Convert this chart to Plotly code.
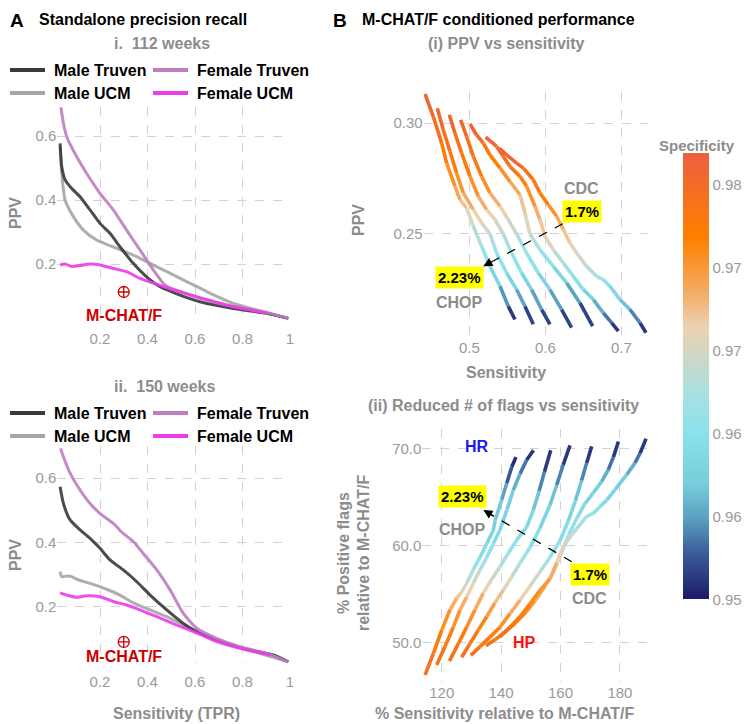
import plotly.graph_objects as go
from plotly.colors import sample_colorscale

# ---------------- Panel A data (sensitivity, PPV) ----------------
# i. 112 weeks
a1_male_truven_x = [0.032,0.039,0.053,0.081,0.116,0.158,0.200,0.242,0.284,0.340,0.396,0.453,0.537,0.621,0.761,0.902,0.993]
a1_male_truven_y = [0.577,0.504,0.463,0.436,0.410,0.369,0.327,0.296,0.254,0.202,0.160,0.129,0.103,0.082,0.061,0.046,0.030]
a1_female_truven_x = [0.034,0.046,0.060,0.102,0.144,0.200,0.256,0.312,0.368,0.425,0.474,0.537,0.621,0.761,0.902,0.993]
a1_female_truven_y = [0.697,0.640,0.598,0.535,0.483,0.421,0.369,0.306,0.244,0.181,0.134,0.114,0.093,0.067,0.048,0.030]
a1_male_ucm_x = [0.032,0.039,0.053,0.088,0.130,0.186,0.270,0.340,0.411,0.481,0.565,0.649,0.761,0.874,0.993]
a1_male_ucm_y = [0.567,0.483,0.400,0.348,0.306,0.275,0.249,0.228,0.202,0.176,0.145,0.114,0.077,0.054,0.030]
a1_female_ucm_x = [0.032,0.053,0.081,0.116,0.158,0.200,0.256,0.312,0.368,0.425,0.509,0.621,0.761,0.902]
a1_female_ucm_y = [0.197,0.200,0.192,0.195,0.200,0.197,0.186,0.176,0.155,0.140,0.119,0.095,0.067,0.046]
a1_mchat = (0.30, 0.1125)

# ii. 150 weeks
a2_male_truven_x = [0.032,0.046,0.074,0.116,0.158,0.200,0.242,0.298,0.354,0.411,0.481,0.551,0.621,0.733,0.832,0.930,0.993]
a2_male_truven_y = [0.573,0.521,0.470,0.439,0.413,0.382,0.346,0.315,0.279,0.237,0.191,0.149,0.118,0.087,0.067,0.051,0.030]
a2_female_truven_x = [0.034,0.046,0.074,0.116,0.158,0.200,0.256,0.298,0.340,0.382,0.439,0.495,0.551,0.607,0.691,0.789,0.902,0.993]
a2_female_truven_y = [0.692,0.666,0.615,0.563,0.521,0.490,0.459,0.428,0.403,0.366,0.315,0.253,0.180,0.134,0.103,0.077,0.056,0.030]
a2_male_ucm_x = [0.032,0.039,0.060,0.081,0.102,0.158,0.228,0.284,0.340,0.411,0.481,0.551,0.621,0.733,0.846,0.993]
a2_male_ucm_y = [0.310,0.294,0.296,0.294,0.286,0.273,0.255,0.237,0.213,0.191,0.170,0.144,0.120,0.087,0.062,0.030]
a2_female_ucm_x = [0.032,0.060,0.102,0.144,0.200,0.256,0.312,0.368,0.439,0.523,0.607,0.691,0.789,0.916]
a2_female_ucm_y = [0.244,0.237,0.230,0.235,0.232,0.217,0.206,0.191,0.170,0.144,0.120,0.093,0.072,0.051]
a2_mchat = (0.30, 0.0915)

series_names = ["Male Truven", "Female Truven", "Male UCM", "Female UCM"]
series_colors = {"Male Truven": "#3a3a3a", "Female Truven": "#bf7dbf",
                 "Male UCM": "#a6a6a6", "Female UCM": "#ec3cec"}

# ---------------- Panel B(i): sensitivity vs PPV, coloured by specificity ----------------
b1_sens = [
    [0.4417,0.4526,0.4636,0.4702,0.4811,0.4877,0.4965,0.5053,0.5162,0.5272,0.5404,0.5513,0.5601],
    [0.4579,0.4658,0.4746,0.4833,0.4921,0.5053,0.5162,0.5272,0.5360,0.5491,0.5623,0.5732,0.5842],
    [0.4737,0.4811,0.4899,0.5009,0.5118,0.5228,0.5338,0.5447,0.5557,0.5689,0.5820,0.5952,0.6061],
    [0.4886,0.4965,0.5053,0.5162,0.5272,0.5404,0.5513,0.5623,0.5754,0.5908,0.6061,0.6215,0.6346],
    [0.5009,0.5096,0.5184,0.5272,0.5404,0.5535,0.5667,0.5732,0.5798,0.5930,0.6105,0.6281,0.6456,0.6623],
    [0.5215,0.5360,0.5447,0.5535,0.5667,0.5754,0.5864,0.5930,0.5996,0.6105,0.6237,0.6368,0.6500,0.6632,0.6763,0.6873,0.6961],
    [0.5395,0.5491,0.5623,0.5711,0.5842,0.5930,0.6039,0.6149,0.6237,0.6325,0.6412,0.6544,0.6675,0.6763,0.6851,0.6982,0.7114,0.7246,0.7325],
]
b1_ppv = [
    [0.3132,0.3030,0.2910,0.2820,0.2715,0.2655,0.2617,0.2535,0.2444,0.2354,0.2264,0.2174,0.2114],
    [0.3068,0.2970,0.2872,0.2775,0.2685,0.2610,0.2550,0.2500,0.2414,0.2324,0.2249,0.2174,0.2092],
    [0.3038,0.2955,0.2865,0.2760,0.2670,0.2610,0.2565,0.2500,0.2414,0.2324,0.2249,0.2159,0.2092],
    [0.3015,0.2940,0.2850,0.2760,0.2685,0.2625,0.2565,0.2500,0.2414,0.2324,0.2249,0.2159,0.2077],
    [0.2997,0.2947,0.2910,0.2857,0.2797,0.2737,0.2677,0.2595,0.2500,0.2429,0.2354,0.2279,0.2189,0.2084],
    [0.2937,0.2895,0.2850,0.2805,0.2760,0.2715,0.2625,0.2565,0.2489,0.2429,0.2369,0.2309,0.2249,0.2204,0.2144,0.2099,0.2062],
    [0.2887,0.2857,0.2820,0.2797,0.2745,0.2685,0.2632,0.2580,0.2520,0.2459,0.2414,0.2354,0.2309,0.2294,0.2264,0.2204,0.2159,0.2099,0.2054],
]
b1_spec = [
    [0.979,0.978,0.976,0.974,0.972,0.9705,0.969,0.967,0.964,0.962,0.959,0.955,0.9525],
    [0.979,0.977,0.976,0.974,0.972,0.970,0.968,0.966,0.964,0.962,0.959,0.956,0.9525],
    [0.979,0.977,0.976,0.974,0.972,0.970,0.968,0.966,0.964,0.962,0.959,0.956,0.9525],
    [0.979,0.977,0.976,0.974,0.972,0.970,0.968,0.966,0.964,0.962,0.959,0.956,0.9525],
    [0.979,0.978,0.977,0.975,0.974,0.972,0.9705,0.969,0.967,0.964,0.962,0.959,0.956,0.9525],
    [0.979,0.978,0.977,0.976,0.975,0.974,0.972,0.970,0.969,0.9665,0.965,0.963,0.961,0.959,0.957,0.955,0.9525],
    [0.979,0.9785,0.978,0.977,0.976,0.975,0.974,0.972,0.9705,0.969,0.968,0.9665,0.965,0.964,0.962,0.960,0.958,0.955,0.9525],
]

# ---------------- Panel B(ii): % sensitivity vs % positive flags (relative to M-CHAT/F) ----------------
b2_rel_sens = [
    [114.4,117.2,120.0,122.8,125.1,126.7,128.4,130.6,132.9,135.2,137.4,138.0,140.2,141.9,143.6,145.0],
    [118.3,121.1,123.9,126.2,128.4,130.6,132.9,135.2,137.4,139.6,142.0,144.1,146.4,148.6,150.9],
    [122.6,125.6,128.4,131.2,134.0,136.8,139.6,142.4,145.3,148.6,150.8,152.8,154.6,156.7],
    [126.7,129.5,132.3,135.2,137.9,140.7,143.6,146.4,149.7,153.1,156.5,158.7,160.9,163.2],
    [129.8,132.9,136.3,139.6,143.0,146.4,149.7,153.1,156.5,159.8,162.6,165.0,167.1,168.8,170.5],
    [134.9,137.9,141.3,144.7,148.0,151.4,154.8,157.6,160.0,162.6,165.5,168.2,171.0,173.9,176.1,177.8,179.5],
    [139.6,143.0,146.4,149.7,153.1,156.5,158.7,160.9,164.3,168.8,171.0,173.3,175.6,178.5,182.3,185.1,186.8,188.8],
]
b2_rel_flags = [
    [46.7,48.9,51.3,53.4,54.6,55.2,56.1,57.5,58.8,60.2,61.6,62.6,64.7,66.4,68.1,69.1],
    [47.7,49.6,51.6,53.4,54.7,56.1,57.5,58.8,60.2,61.6,63.7,65.7,67.4,68.8,69.8],
    [48.1,49.9,51.6,53.4,55.1,56.5,57.8,59.2,60.6,61.9,63.6,65.6,67.6,69.8],
    [48.5,49.9,51.3,52.7,54.1,55.4,56.8,58.2,59.8,61.8,64.2,66.2,68.3,70.3],
    [48.7,49.6,50.6,51.6,53.0,54.4,55.8,57.3,58.8,60.5,62.5,64.6,66.7,68.5,70.2],
    [49.7,50.3,51.1,52.0,53.0,54.3,55.8,57.3,59.0,61.0,62.8,64.3,65.4,66.6,67.8,69.1,70.7],
    [50.6,51.6,52.7,54.0,55.4,56.6,58.2,59.9,61.3,63.0,63.3,64.0,64.7,65.8,67.3,68.5,69.5,71.0],
]
b2_spec = [
    [0.977,0.976,0.974,0.972,0.970,0.969,0.967,0.964,0.962,0.961,0.960,0.9595,0.959,0.956,0.954,0.9525],
    [0.977,0.976,0.974,0.972,0.970,0.968,0.966,0.964,0.962,0.961,0.960,0.959,0.957,0.955,0.9525],
    [0.977,0.976,0.974,0.972,0.970,0.968,0.966,0.964,0.962,0.961,0.960,0.958,0.955,0.9525],
    [0.977,0.976,0.975,0.973,0.971,0.969,0.967,0.965,0.963,0.961,0.960,0.958,0.955,0.9525],
    [0.977,0.976,0.975,0.974,0.972,0.970,0.968,0.966,0.964,0.962,0.961,0.960,0.958,0.955,0.9525],
    [0.977,0.976,0.975,0.974,0.973,0.972,0.970,0.968,0.966,0.964,0.962,0.961,0.960,0.959,0.957,0.955,0.9525],
    [0.977,0.976,0.975,0.974,0.973,0.972,0.970,0.968,0.966,0.964,0.963,0.962,0.961,0.960,0.959,0.957,0.955,0.9525],
]

spec_min, spec_max = 0.9525, 0.9794
spec_tickvals = [0.9525, 0.9575, 0.9625, 0.9675, 0.9725, 0.9775]
spec_ticktext = ["0.95", "0.96", "0.96", "0.97", "0.97", "0.98"]

# annotations in panel B
b1_cdc = dict(label="1.7%", name="CDC", x=0.648, y=0.2600, name_y=0.2704)
b1_chop = dict(label="2.23%", name="CHOP", x=0.4866, y=0.2303, name_y=0.2190)
b1_arrow = dict(x0=0.6229, y0=0.2546, x1=0.5184, y1=0.2354)
b2_cdc = dict(label="1.7%", name="CDC", x=169.9, y=57.0, name_y=54.5)
b2_chop = dict(label="2.23%", name="CHOP", x=127.0, y=65.0, name_y=61.7)
b2_arrow = dict(x0=163.8, y0=58.33, x1=134.0, y1=63.65)
b2_hr = (131.8, 70.2)
b2_hp = (148.0, 50.0)


def hex2rgb(h):
    h = h.lstrip('#')
    return "rgb(%d,%d,%d)" % (int(h[0:2], 16), int(h[2:4], 16), int(h[4:6], 16))


colorscale = [[0.00, hex2rgb('#1b1b6b')], [0.10, hex2rgb('#3a5a98')], [0.18, hex2rgb('#5aa0c0')],
              [0.26, hex2rgb('#78cedc')], [0.37, hex2rgb('#88e2ec')], [0.46, hex2rgb('#a8e0e2')],
              [0.53, hex2rgb('#c8d8cc')], [0.61, hex2rgb('#ecd2b2')], [0.70, hex2rgb('#f6a65a')],
              [0.81, hex2rgb('#ff8000')], [1.00, hex2rgb('#ec5f40')]]


def spec_color(s):
    t = (s - spec_min) / (spec_max - spec_min)
    t = min(1.0, max(0.0, t))
    return sample_colorscale(colorscale, [t])[0]


fig = go.Figure()

FONT = "Liberation Sans, Arial, sans-serif"
GRAY = "#8c8c8c"
TICKGRAY = "#9a9a9a"
OFF = 8  # page offset of the plot div (body margin)


def px2paper_x(px):
    return (px - OFF) / 750.0


def px2paper_y(py):
    return 1 - (py - OFF) / 724.0


# ----- Panel A traces -----
def add_a(xa, ya, data):
    for name in ["Male UCM", "Male Truven", "Female Truven", "Female UCM"]:
        xs, ys = data[name]
        fig.add_trace(go.Scatter(x=xs, y=ys, mode="lines", xaxis=xa, yaxis=ya,
                                 line=dict(color=series_colors[name], width=3, shape="spline", smoothing=0.6),
                                 opacity=0.9, showlegend=False, hoverinfo="skip"))

add_a("x", "y", {"Male Truven": (a1_male_truven_x, a1_male_truven_y),
                 "Female Truven": (a1_female_truven_x, a1_female_truven_y),
                 "Male UCM": (a1_male_ucm_x, a1_male_ucm_y),
                 "Female UCM": (a1_female_ucm_x, a1_female_ucm_y)})
add_a("x2", "y2", {"Male Truven": (a2_male_truven_x, a2_male_truven_y),
                   "Female Truven": (a2_female_truven_x, a2_female_truven_y),
                   "Male UCM": (a2_male_ucm_x, a2_male_ucm_y),
                   "Female UCM": (a2_female_ucm_x, a2_female_ucm_y)})

for xa, ya, pt in [("x", "y", a1_mchat), ("x2", "y2", a2_mchat)]:
    fig.add_trace(go.Scatter(x=[pt[0]], y=[pt[1]], mode="markers", xaxis=xa, yaxis=ya,
                             marker=dict(symbol="circle-cross-open", size=11, color="#cc0000",
                                         line=dict(width=1.3, color="#cc0000")),
                             showlegend=False, hoverinfo="skip"))


# ----- Panel B gradient lines -----
def add_gradient(xa, ya, xs_list, ys_list, ss_list):
    for xs, ys, ss in zip(xs_list, ys_list, ss_list):
        for i in range(len(xs) - 1):
            c = spec_color((ss[i] + ss[i + 1]) / 2)
            fig.add_trace(go.Scatter(x=[xs[i], xs[i + 1]], y=[ys[i], ys[i + 1]], mode="lines",
                                     xaxis=xa, yaxis=ya, line=dict(color=c, width=3.6),
                                     showlegend=False, hoverinfo="skip"))

add_gradient("x3", "y3", b1_sens, b1_ppv, b1_spec)
add_gradient("x4", "y4", b2_rel_sens, b2_rel_flags, b2_spec)

# colour bar trace (title drawn as an annotation so the bar does not push the margins)
fig.add_trace(go.Scatter(x=[0.6, 0.6], y=[0.25, 0.25], mode="markers", xaxis="x3", yaxis="y3",
                         marker=dict(size=0.1, opacity=0, color=[spec_min, spec_max],
                                     cmin=spec_min, cmax=spec_max, colorscale=colorscale, showscale=True,
                                     colorbar=dict(x=px2paper_x(683), xanchor="left",
                                                   y=px2paper_y(376.5), yanchor="middle",
                                                   len=446 / 724, lenmode="fraction", thickness=26,
                                                   xpad=0, ypad=0, outlinewidth=0, ticks="",
                                                   tickvals=spec_tickvals, ticktext=spec_ticktext,
                                                   tickfont=dict(family=FONT, size=15, color=TICKGRAY))),
                         showlegend=False, hoverinfo="skip"))

axis_common = dict(showline=False, zeroline=False, ticks="", showgrid=True, gridcolor="#d2d2d2",
                   griddash="dash", gridwidth=1.1, automargin=False,
                   tickfont=dict(family=FONT, size=15, color=TICKGRAY))

fig.update_layout(
    width=750, height=724, margin=dict(l=0, r=0, t=0, b=0, autoexpand=False),
    paper_bgcolor="white", plot_bgcolor="white", showlegend=False,
    font=dict(family=FONT),
    xaxis=dict(domain=[px2paper_x(57.25), px2paper_x(290)], range=[0.02, 1.0], anchor="y",
               tickvals=[0.2, 0.4, 0.6, 0.8, 1.0], ticktext=["0.2", "0.4", "0.6", "0.8", "1"],
               ticklabelstandoff=8, **axis_common),
    yaxis=dict(domain=[px2paper_y(320), px2paper_y(107.2)], range=[0.025, 0.69], anchor="x",
               tickvals=[0.2, 0.4, 0.6], ticktext=["0.2", "0.4", "0.6"], **axis_common),
    xaxis2=dict(domain=[px2paper_x(57.25), px2paper_x(290)], range=[0.02, 1.0], anchor="y2",
                tickvals=[0.2, 0.4, 0.6, 0.8, 1.0], ticktext=["0.2", "0.4", "0.6", "0.8", "1"],
                ticklabelstandoff=8, **axis_common),
    yaxis2=dict(domain=[px2paper_y(663.4), px2paper_y(445.8)], range=[0.025, 0.70], anchor="x2",
                tickvals=[0.2, 0.4, 0.6], ticktext=["0.2", "0.4", "0.6"], **axis_common),
    xaxis3=dict(domain=[px2paper_x(423.7), px2paper_x(647.9)], range=[0.44, 0.735], anchor="y3",
                tickvals=[0.5, 0.6, 0.7], ticktext=["0.5", "0.6", "0.7"], **axis_common),
    yaxis3=dict(domain=[px2paper_y(337), px2paper_y(92.2)], range=[0.2035, 0.314], anchor="x3",
                tickvals=[0.25, 0.30], ticktext=["0.25", "0.30"], **axis_common),
    xaxis4=dict(domain=[px2paper_x(422.4), px2paper_x(651.1)], range=[113.5, 190.5], anchor="y4",
                tickvals=[120, 140, 160, 180], ticktext=["120", "140", "160", "180"], **axis_common),
    yaxis4=dict(domain=[px2paper_y(681.6), px2paper_y(428.9)], range=[46.0, 72.0], anchor="x4",
                tickvals=[50, 60, 70], ticktext=["50.0", "60.0", "70.0"], **axis_common),
)

ann = []


def ptext(text, px, py, size=16, color="black", bold=True, xanchor="center", angle=0, yanchor="middle"):
    t = "<b>%s</b>" % text if bold else text
    ann.append(dict(text=t, x=px2paper_x(px), y=px2paper_y(py), xref="paper", yref="paper",
                    xanchor=xanchor, yanchor=yanchor, showarrow=False, textangle=angle,
                    font=dict(family=FONT, size=size, color=color)))


# Panel titles (kept fully inside the top edge of the figure)
ptext("A", 8, 8, size=19, xanchor="left", yanchor="top")
ptext("Standalone precision recall", 37, 8.5, size=16, xanchor="left", yanchor="top")
ptext("B", 331, 8, size=19, xanchor="left", yanchor="top")
ptext("M-CHAT/F conditioned performance", 360, 8.5, size=16, xanchor="left", yanchor="top")
# subtitles
ptext("i.&nbsp;&nbsp;112 weeks", 162, 43, size=16, color=GRAY)
ptext("ii.&nbsp;&nbsp;150 weeks", 165, 386, size=16, color=GRAY)
ptext("(i) PPV vs sensitivity", 506, 43, size=16, color=GRAY)
ptext("(ii) Reduced # of flags vs sensitivity", 503, 405, size=16, color=GRAY)
# axis titles
ptext("PPV", 15, 213, size=16, color=GRAY, angle=-90)
ptext("PPV", 15, 555, size=16, color=GRAY, angle=-90)
ptext("Sensitivity (TPR)", 176, 713, size=16, color=GRAY)
ptext("PPV", 358, 220, size=16, color=GRAY, angle=-90)
ptext("Sensitivity", 506, 372, size=16, color=GRAY)
ptext("% Positive flags", 343, 553, size=16, color=GRAY, angle=-90)
ptext("relative to M-CHAT/F", 363, 553, size=16, color=GRAY, angle=-90)
ptext("% Sensitivity relative to M-CHAT/F", 505, 713, size=16, color=GRAY)
# colour bar title
ptext("Specificity", 697, 145, size=15, color=GRAY)

# legends (drawn with shapes + text)
shapes = []
for row_y in [(70, 93), (413, 436)]:
    entries = [("Male Truven", 10, row_y[0]), ("Female Truven", 153, row_y[0]),
               ("Male UCM", 10, row_y[1]), ("Female UCM", 153, row_y[1])]
    for name, lx, ly in entries:
        shapes.append(dict(type="line", xref="paper", yref="paper",
                           x0=px2paper_x(lx), x1=px2paper_x(lx + 35), y0=px2paper_y(ly), y1=px2paper_y(ly),
                           line=dict(color=series_colors[name], width=4)))
        ptext(name, lx + 42, ly, size=16, xanchor="left")

# M-CHAT/F labels
for xa, ya, pt, ly in [("x", "y", a1_mchat, 0.040), ("x2", "y2", a2_mchat, 0.046)]:
    ann.append(dict(text="<b>M-CHAT/F</b>", x=pt[0], y=ly, xref=xa, yref=ya, showarrow=False,
                    font=dict(family=FONT, size=16, color="#cc0000")))


# Panel B labels
def b_labels(xa, ya, cdc, chop, arrow):
    for d in (cdc, chop):
        ann.append(dict(text="<b>%s</b>" % d["label"], x=d["x"], y=d["y"], xref=xa, yref=ya, showarrow=False,
                        bgcolor="#ffff00", borderpad=2, font=dict(family=FONT, size=15, color="black")))
        ann.append(dict(text="<b>%s</b>" % d["name"], x=d["x"], y=d["name_y"], xref=xa, yref=ya, showarrow=False,
                        font=dict(family=FONT, size=16, color=GRAY)))
    shapes.append(dict(type="line", xref=xa, yref=ya, x0=arrow["x0"], y0=arrow["y0"],
                       x1=arrow["x1"], y1=arrow["y1"], line=dict(color="black", width=1.3, dash="dash")))
    ann.append(dict(text="", x=arrow["x1"], y=arrow["y1"], xref=xa, yref=ya,
                    ax=arrow["x1"] + (arrow["x0"] - arrow["x1"]) * 0.12,
                    ay=arrow["y1"] + (arrow["y0"] - arrow["y1"]) * 0.12,
                    axref=xa, ayref=ya, showarrow=True, arrowhead=2, arrowsize=1.4,
                    arrowwidth=1.3, arrowcolor="black"))

b_labels("x3", "y3", b1_cdc, b1_chop, b1_arrow)
b_labels("x4", "y4", b2_cdc, b2_chop, b2_arrow)
ann.append(dict(text="<b>HR</b>", x=b2_hr[0], y=b2_hr[1], xref="x4", yref="y4", showarrow=False,
                font=dict(family=FONT, size=16, color="#1a1ae6")))
ann.append(dict(text="<b>HP</b>", x=b2_hp[0], y=b2_hp[1], xref="x4", yref="y4", showarrow=False,
                font=dict(family=FONT, size=16, color="#ff1010")))

fig.update_layout(annotations=ann, shapes=shapes)
fig.write_html("out.html")
